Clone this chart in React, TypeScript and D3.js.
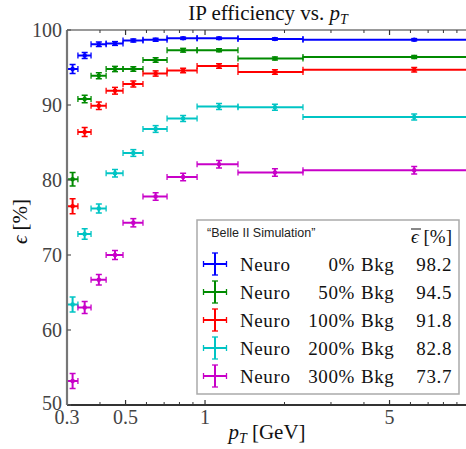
import React from "react";
import * as d3 from "d3";

// pT bins (GeV)
const binLow = [0.3, 0.33, 0.37, 0.422, 0.489, 0.582, 0.718, 0.933, 1.333, 2.35];
const binHigh = [0.33, 0.37, 0.422, 0.489, 0.582, 0.718, 0.933, 1.333, 2.35, 10];
const binCenter = [0.315, 0.35, 0.396, 0.456, 0.535, 0.65, 0.826, 1.13, 1.84, 6.2];

const bkg0 = [94.8, 96.6, 98.1, 98.2, 98.6, 98.7, 98.9, 98.9, 98.8, 98.7];
const bkg50 = [80.1, 90.8, 93.9, 94.8, 94.8, 96.0, 97.3, 97.3, 96.2, 96.4];
const bkg100 = [76.5, 86.4, 89.9, 91.9, 92.8, 94.2, 94.6, 95.2, 94.4, 94.7];
const bkg200 = [63.4, 72.8, 76.2, 80.9, 83.6, 86.8, 88.2, 89.8, 89.7, 88.4];
const bkg300 = [53.2, 63.0, 66.7, 70.0, 74.3, 77.8, 80.4, 82.1, 81.0, 81.3];

const err0 = [0.6, 0.4, 0.3, 0.25, 0.2, 0.2, 0.15, 0.15, 0.15, 0.15];
const err50 = [0.9, 0.5, 0.4, 0.35, 0.3, 0.3, 0.25, 0.2, 0.2, 0.2];
const err100 = [1.0, 0.6, 0.5, 0.45, 0.4, 0.35, 0.3, 0.3, 0.3, 0.3];
const err200 = [1.0, 0.7, 0.6, 0.5, 0.45, 0.45, 0.4, 0.4, 0.4, 0.4];
const err300 = [1.0, 0.8, 0.7, 0.6, 0.55, 0.5, 0.5, 0.5, 0.5, 0.5];

const seriesNames = ["0%", "50%", "100%", "200%", "300%"];
const meanEff = ["98.2", "94.5", "91.8", "82.8", "73.7"];
const colors = ["#0000ff", "#008a00", "#ff0000", "#00c4c4", "#c800c8"];

const xTickLabels = [0.3, 0.5, 1, 5];
const xMajor = [0.5, 1, 5];
const xMinor = [0.4, 0.6, 0.7, 0.8, 0.9, 2, 3, 4, 6, 7, 8, 9];
const yTicks = [50, 60, 70, 80, 90, 100];

const W = 466;
const H = 449;
const margin = { top: 30, right: -3, bottom: 44, left: 67 };

const serif = "Liberation Serif, DejaVu Serif, serif";

const App = () => {
  const values = [bkg0, bkg50, bkg100, bkg200, bkg300];
  const errors = [err0, err50, err100, err200, err300];

  const x = d3
    .scaleLog()
    .domain([0.3, 10])
    .range([margin.left, W - margin.right]);
  const y = d3
    .scaleLinear()
    .domain([50, 100])
    .range([H - margin.bottom, margin.top]);

  const x0 = x.range()[0];
  const x1 = x.range()[1];
  const yb = y(50);
  const yt = y(100);

  const cap = 3;

  // legend layout
  const lg = { x: 197, y: 220, w: 262, h: 174 };
  const rowY = (i) => lg.y + 44 + i * 28;
  const legText = { fontFamily: serif, fontSize: 19, fill: "#111", letterSpacing: 0.6 };

  return (
    <svg
      width={W}
      height={H}
      style={{ position: "absolute", left: 0, top: 0, background: "#fff" }}
    >
      {/* title */}
      <text x={268} y={20} textAnchor="middle" fontFamily={serif} fontSize={21} fill="#111">
        IP efficiency vs.{" "}
        <tspan fontStyle="italic">p</tspan>
        <tspan fontStyle="italic" fontSize={14} dy={4}>T</tspan>
      </text>

      {/* data */}
      {values.map((vals, s) => (
        <g key={s} stroke={colors[s]} fill={colors[s]} strokeWidth={2}>
          {vals.map((v, i) => {
            const cx = x(binCenter[i]);
            const cy = y(v);
            const lo = x(binLow[i]);
            const hi = x(binHigh[i]);
            const eTop = y(v + errors[s][i]);
            const eBot = y(v - errors[s][i]);
            return (
              <g key={i}>
                <line x1={lo} x2={hi} y1={cy} y2={cy} />
                <line x1={lo} x2={lo} y1={cy - cap} y2={cy + cap} strokeWidth={1.3} />
                <line x1={hi} x2={hi} y1={cy - cap} y2={cy + cap} strokeWidth={1.3} />
                <line x1={cx} x2={cx} y1={eTop} y2={eBot} />
                <line x1={cx - cap} x2={cx + cap} y1={eTop} y2={eTop} strokeWidth={1.5} />
                <line x1={cx - cap} x2={cx + cap} y1={eBot} y2={eBot} strokeWidth={1.5} />
                <circle cx={cx} cy={cy} r={2.3} stroke="none" />
              </g>
            );
          })}
        </g>
      ))}

      {/* frame */}
      <line x1={x0} x2={x1} y1={yt} y2={yt} stroke="#777" strokeWidth={1.5} />
      <line x1={x0} x2={x1} y1={yb} y2={yb} stroke="#333" strokeWidth={1.8} />
      <line x1={x0} x2={x0} y1={yt} y2={yb} stroke="#777" strokeWidth={2.2} />
      <line x1={x1} x2={x1} y1={yt} y2={yb} stroke="#777" strokeWidth={1.5} />

      {/* x ticks */}
      {xMajor.map((t) => (
        <g key={"M" + t} stroke="#333" strokeWidth={1.2}>
          <line x1={x(t)} x2={x(t)} y1={yb} y2={yb - 5} />
          <line x1={x(t)} x2={x(t)} y1={yt} y2={yt + 5} />
        </g>
      ))}
      {xMinor.map((t) => (
        <g key={"m" + t} stroke="#333" strokeWidth={1}>
          <line x1={x(t)} x2={x(t)} y1={yb} y2={yb - 3} />
          <line x1={x(t)} x2={x(t)} y1={yt} y2={yt + 3} />
        </g>
      ))}
      {xTickLabels.map((t) => (
        <text key={"l" + t} x={x(t)} y={424} textAnchor="middle" fontFamily={serif} fontSize={20} fill="#444">
          {t}
        </text>
      ))}

      {/* y ticks */}
      {yTicks.map((t) => (
        <g key={"y" + t}>
          <line x1={x0} x2={x0 + 4} y1={y(t)} y2={y(t)} stroke="#555" strokeWidth={1.2} />
          <text x={62} y={y(t) - (t === 50 ? 2 : 0)} dy="0.35em" textAnchor="end" fontFamily={serif} fontSize={20} fill="#444">
            {t}
          </text>
        </g>
      ))}

      {/* axis titles */}
      <text
        transform={`translate(27,${(yt + yb) / 2 + 4}) rotate(-90)`}
        textAnchor="middle"
        fontFamily={serif}
        fontSize={21}
        fill="#111"
      >
        <tspan fontStyle="italic">ϵ</tspan> [%]
      </text>
      <text x={267} y={439} textAnchor="middle" fontFamily={serif} fontSize={21} fill="#111">
        <tspan fontStyle="italic">p</tspan>
        <tspan fontStyle="italic" fontSize={14} dy={4}>T</tspan>
        <tspan dy={-4}> [GeV]</tspan>
      </text>

      {/* legend */}
      <rect x={lg.x} y={lg.y} width={lg.w} height={lg.h} fill="#fff" stroke="#aaa" strokeWidth={1.5} />
      <text x={207} y={237} fontFamily="Liberation Sans, Arial, sans-serif" fontSize={12.5} fill="#222">
        “Belle II Simulation”
      </text>
      <text x={452} y={243} textAnchor="end" fontFamily={serif} fontSize={19} fill="#111">
        <tspan fontStyle="italic">ϵ</tspan> [%]
      </text>
      <line x1={411} x2={421} y1={229} y2={229} stroke="#111" strokeWidth={1} />
      {seriesNames.map((name, i) => {
        const cy = rowY(i);
        const cx = 215;
        return (
          <g key={name}>
            <g stroke={colors[i]} strokeWidth={2}>
              <line x1={cx - 11.5} x2={cx + 11.5} y1={cy} y2={cy} />
              <line x1={cx} x2={cx} y1={cy - 11} y2={cy + 11} />
              <line x1={cx - 11.5} x2={cx - 11.5} y1={cy - 3} y2={cy + 3} strokeWidth={1.3} />
              <line x1={cx + 11.5} x2={cx + 11.5} y1={cy - 3} y2={cy + 3} strokeWidth={1.3} />
              <line x1={cx - 3} x2={cx + 3} y1={cy - 11} y2={cy - 11} strokeWidth={1.3} />
              <line x1={cx - 3} x2={cx + 3} y1={cy + 11} y2={cy + 11} strokeWidth={1.3} />
            </g>
            <text x={240} y={cy + 6.5} {...legText}>Neuro</text>
            <text x={355} y={cy + 6.5} textAnchor="end" {...legText}>{name}</text>
            <text x={361} y={cy + 6.5} {...legText}>Bkg</text>
            <text x={452} y={cy + 6.5} textAnchor="end" {...legText}>{meanEff[i]}</text>
          </g>
        );
      })}
    </svg>
  );
};

export default App;
